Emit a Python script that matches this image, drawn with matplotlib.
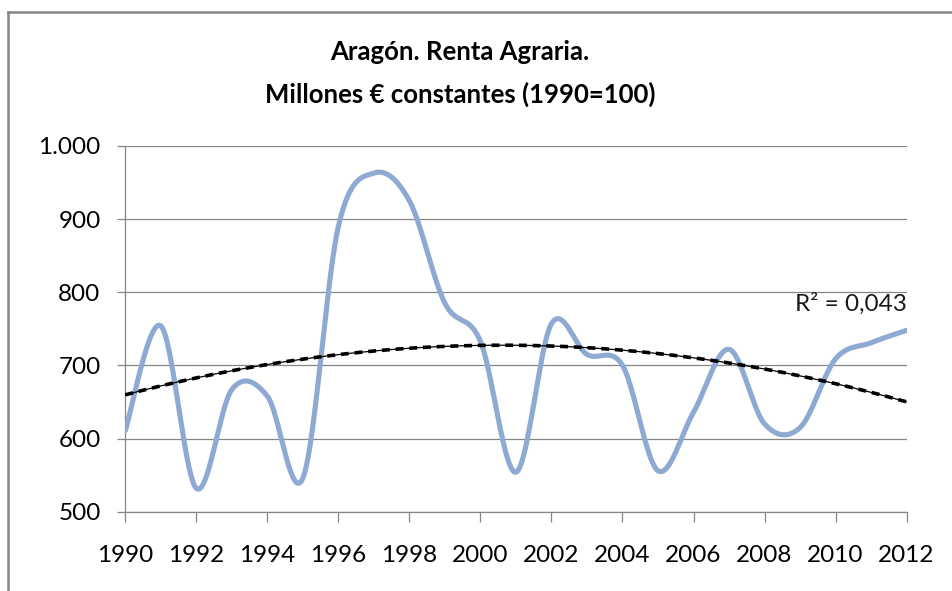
import numpy as np
import matplotlib
matplotlib.use("Agg")
import matplotlib.pyplot as plt
from matplotlib.lines import Line2D

plt.rcParams['font.family'] = ['Lato', 'DejaVu Sans']

years = list(range(1990, 2013))
renta = [611, 754, 532, 667, 658, 546, 890, 963, 925, 785, 733, 554, 757,
         715, 700, 556, 636, 722, 620, 615, 709, 731, 748]
xticks = list(range(1990, 2013, 2))
yticks = [500, 600, 700, 800, 900, 1000]
ytick_labels = ["500", "600", "700", "800", "900", "1.000"]
title_line1 = "Aragón. Renta Agraria."
title_line2 = "Millones € constantes (1990=100)"
r2_label = "R² = 0,043"


def catmull_rom(x, y, n=40):
    x = np.asarray(x, float)
    y = np.asarray(y, float)
    px = np.concatenate([[x[0]], x, [x[-1]]])
    py = np.concatenate([[y[0]], y, [y[-1]]])
    xs, ys = [], []
    t = np.linspace(0, 1, n, endpoint=False)
    for i in range(1, len(px) - 2):
        p0x, p1x, p2x, p3x = px[i-1:i+3]
        p0y, p1y, p2y, p3y = py[i-1:i+3]
        t2, t3 = t * t, t * t * t
        xs.append(0.5 * (2*p1x + (-p0x + p2x)*t + (2*p0x - 5*p1x + 4*p2x - p3x)*t2 + (-p0x + 3*p1x - 3*p2x + p3x)*t3))
        ys.append(0.5 * (2*p1y + (-p0y + p2y)*t + (2*p0y - 5*p1y + 4*p2y - p3y)*t2 + (-p0y + 3*p1y - 3*p2y + p3y)*t3))
    xs.append([x[-1]])
    ys.append([y[-1]])
    return np.concatenate(xs), np.concatenate(ys)


W, H = 952, 591
fig = plt.figure(figsize=(W / 100, H / 100), dpi=100)
left, right = 125.3 / W, 906.6 / W
top, bottom = 1 - 146.0 / H, 1 - 511.7 / H
ax = fig.add_axes([left, bottom, right - left, top - bottom])

grid_c = '#868686'
for v in yticks:
    ax.axhline(v, color=grid_c, lw=0.9, zorder=1)

sx, sy = catmull_rom(years, renta)
ax.plot(sx, sy, color='#8EA9D2', lw=3.7, solid_capstyle='round', zorder=3)

# quadratic trend line
coef = np.polyfit(years, renta, 2)
tx = np.linspace(years[0], years[-1], 300)
ty = np.polyval(coef, tx)
ax.plot(tx, ty, color='black', lw=0.9, zorder=4)
ax.plot(tx, ty, color='black', lw=2.6, dashes=(2.2, 1.6), zorder=4)

ax.set_xlim(1990, 2012)
ax.set_ylim(500, 1000)
ax.set_xticks(xticks)
ax.set_xticklabels([str(x) for x in xticks])
ax.set_yticks(yticks)
ax.set_yticklabels(ytick_labels)

for s in ['top', 'right']:
    ax.spines[s].set_visible(False)
for s in ['left', 'bottom']:
    ax.spines[s].set_color(grid_c)
    ax.spines[s].set_linewidth(0.9)

ax.tick_params(axis='y', direction='out', length=5.8, width=0.9, color=grid_c,
               pad=12, labelsize=17.5, labelcolor='black')
ax.tick_params(axis='x', direction='out', length=7.2, width=0.9, color=grid_c,
               pad=17, labelsize=17.5, labelcolor='black')

ax.text(2012, 775, r2_label, ha='right', va='baseline', fontsize=17.5,
        color='#1a1a1a', zorder=5)

fig.text(460 / W, 1 - 60 / H, title_line1, ha='center', va='baseline',
         fontsize=18.5, fontweight='bold')
fig.text(460 / W, 1 - 103 / H, title_line2, ha='center', va='baseline',
         fontsize=18.5, fontweight='bold')

# chart-area frame (top and left edges visible)
fig.add_artist(Line2D([8 / W, 1], [1 - 12 / H, 1 - 12 / H], transform=fig.transFigure,
                      color=grid_c, lw=1.8))
fig.add_artist(Line2D([8 / W, 8 / W], [0, 1 - 12 / H], transform=fig.transFigure,
                      color=grid_c, lw=1.8))

fig.savefig('out.png', dpi=100)
